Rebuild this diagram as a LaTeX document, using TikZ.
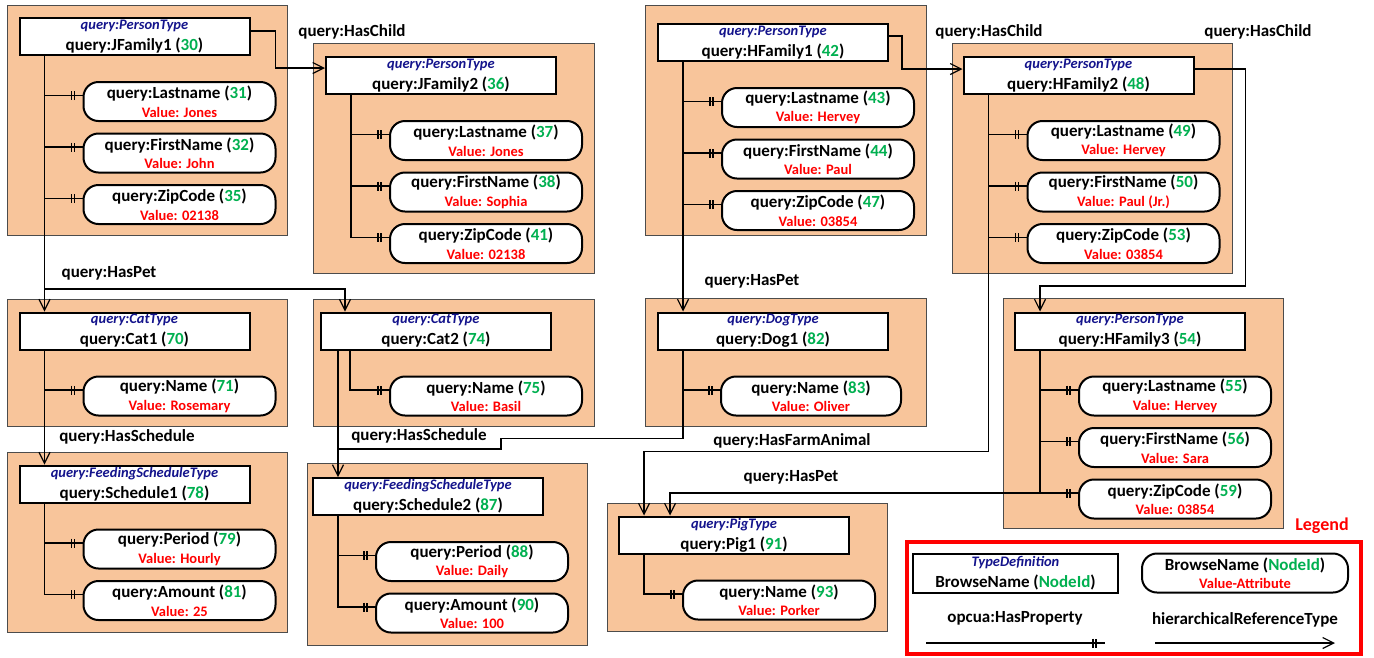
\documentclass[tikz,border=0pt]{standalone}
\usepackage{fontspec}
\setmainfont{Carlito}
\usetikzlibrary{backgrounds}
\usetikzlibrary{arrows.meta,calc,positioning}

\definecolor{grpfill}{RGB}{248,197,155}
\definecolor{typeblue}{RGB}{20,20,140}
\definecolor{idgreen}{RGB}{0,176,80}
\definecolor{valred}{RGB}{255,0,0}

\newcommand{\nid}[1]{\textcolor{idgreen}{#1}}
\newcommand{\tdef}[1]{{\fontsize{14.5}{14.5}\selectfont\itshape\color{typeblue}#1}}
\newcommand{\val}[1]{{\fontsize{14.5}{14.5}\selectfont\color{valred}#1}}
\newcommand{\hasprop}[2]{%
    \draw[propref] (#1) |- ([yshift=6pt]#2.west)
        ++(-11,-4.5) -- ++(0,9) ++(3,0) -- ++(0,-9);}

\begin{document}
\begin{tikzpicture}[
    x=1pt, y=-1pt,
    show background rectangle,
    tight background,
    background rectangle/.style={fill=white},
    group/.style={fill=grpfill, draw=black!70, line width=1pt},
    typebox/.style={draw, fill=white, line width=2pt, minimum width=230pt,
        minimum height=37pt, inner sep=0pt, align=center,
        font=\bfseries\fontsize{17}{21}\selectfont},
    propbox/.style={draw, fill=white, line width=2pt, rounded corners=15pt,
        minimum width=192pt, minimum height=39pt, inner sep=0pt, align=center,
        font=\bfseries\fontsize{17}{18.5}\selectfont},
    ref/.style={line width=1.2pt, -{Straight Barb[length=11pt,width=11pt]}},
    propref/.style={line width=1.2pt},
    reflabel/.style={font=\bfseries\fontsize{17}{17}\selectfont},
 ]
    \useasboundingbox (0,0) rectangle (1374,657);

    \draw[group] (7,5) rectangle (287,235);
    \draw[group] (313,43) rectangle (594,273);
    \draw[group] (645,5) rectangle (926,235);
    \draw[group] (952,43) rectangle (1232,273);
    \draw[group] (7,299) rectangle (287,426);
    \draw[group] (313,299) rectangle (594,426);
    \draw[group] (7,452) rectangle (287,632);
    \draw[group] (307,463) rectangle (587,645);
    \draw[group] (645,298) rectangle (926,426);
    \draw[group] (1003,298) rectangle (1283,528);
    \draw[group] (607,503) rectangle (887,631);

    \node[typebox] (jf1) at (134.5,36.5) {\tdef{query:PersonType}\\query:JFamily1 (\nid{30})};
    \node[propbox, anchor=north west] (jf1a) at ($(jf1.south west)+(64,25)$) {query:Lastname (\nid{31})\\\val{Value: Jones}};
    \node[propbox, below=10.5pt of jf1a] (jf1b) {query:FirstName (\nid{32})\\\val{Value: John}};
    \node[propbox, below=10.5pt of jf1b] (jf1c) {query:ZipCode (\nid{35})\\\val{Value: 02138}};

    \node[typebox] (jf2) at (441,75.5) {\tdef{query:PersonType}\\query:JFamily2 (\nid{36})};
    \node[propbox, anchor=north west] (jf2a) at ($(jf2.south west)+(64,25)$) {query:Lastname (\nid{37})\\\val{Value: Jones}};
    \node[propbox, below=10.5pt of jf2a] (jf2b) {query:FirstName (\nid{38})\\\val{Value: Sophia}};
    \node[propbox, below=10.5pt of jf2b] (jf2c) {query:ZipCode (\nid{41})\\\val{Value: 02138}};

    \node[typebox] (hf1) at (773,42.5) {\tdef{query:PersonType}\\query:HFamily1 (\nid{42})};
    \node[propbox, anchor=north west] (hf1a) at ($(hf1.south west)+(64,25)$) {query:Lastname (\nid{43})\\\val{Value: Hervey}};
    \node[propbox, below=10.5pt of hf1a] (hf1b) {query:FirstName (\nid{44})\\\val{Value: Paul}};
    \node[propbox, below=10.5pt of hf1b] (hf1c) {query:ZipCode (\nid{47})\\\val{Value: 03854}};

    \node[typebox] (hf2) at (1078.5,75.5) {\tdef{query:PersonType}\\query:HFamily2 (\nid{48})};
    \node[propbox, anchor=north west] (hf2a) at ($(hf2.south west)+(64,25)$) {query:Lastname (\nid{49})\\\val{Value: Hervey}};
    \node[propbox, below=10.5pt of hf2a] (hf2b) {query:FirstName (\nid{50})\\\val{Value: Paul (Jr.)}};
    \node[propbox, below=10.5pt of hf2b] (hf2c) {query:ZipCode (\nid{53})\\\val{Value: 03854}};

    \node[typebox] (hf3) at (1130,331) {\tdef{query:PersonType}\\query:HFamily3 (\nid{54})};
    \node[propbox, anchor=north west] (hf3a) at ($(hf3.south west)+(64,25)$) {query:Lastname (\nid{55})\\\val{Value: Hervey}};
    \node[propbox, below=10.5pt of hf3a] (hf3b) {query:FirstName (\nid{56})\\\val{Value: Sara}};
    \node[propbox, below=10.5pt of hf3b] (hf3c) {query:ZipCode (\nid{59})\\\val{Value: 03854}};

    \node[typebox] (cat1) at (134.5,331) {\tdef{query:CatType}\\query:Cat1 (\nid{70})};
    \node[propbox, anchor=north west] (cat1a) at ($(cat1.south west)+(64,25)$) {query:Name (\nid{71})\\\val{Value: Rosemary}};

    \node[typebox] (cat2) at (436,331) {\tdef{query:CatType}\\query:Cat2 (\nid{74})};
    \node[propbox, anchor=north west] (cat2a) at ($(cat2.south west)+(69,25)$) {query:Name (\nid{75})\\\val{Value: Basil}};

    \node[typebox] (sch1) at (134.5,484) {\tdef{query:FeedingScheduleType}\\query:Schedule1 (\nid{78})};
    \node[propbox, anchor=north west] (sch1a) at ($(sch1.south west)+(64,25)$) {query:Period (\nid{79})\\\val{Value: Hourly}};
    \node[propbox, below=10.5pt of sch1a] (sch1b) {query:Amount (\nid{81})\\\val{Value: 25}};

    \node[typebox] (sch2) at (428,496.5) {\tdef{query:FeedingScheduleType}\\query:Schedule2 (\nid{87})};
    \node[propbox, anchor=north west] (sch2a) at ($(sch2.south west)+(63,25)$) {query:Period (\nid{88})\\\val{Value: Daily}};
    \node[propbox, below=10.5pt of sch2a] (sch2b) {query:Amount (\nid{90})\\\val{Value: 100}};

    \node[typebox] (dog1) at (773,331) {\tdef{query:DogType}\\query:Dog1 (\nid{82})};
    \node[propbox, minimum width=180pt, anchor=north west] (dog1a) at ($(dog1.south west)+(63,25)$) {query:Name (\nid{83})\\\val{Value: Oliver}};

    \node[typebox] (pig1) at (734,535) {\tdef{query:PigType}\\query:Pig1 (\nid{91})};
    \node[propbox, anchor=north west] (pig1a) at ($(pig1.south west)+(64,25)$) {query:Name (\nid{93})\\\val{Value: Porker}};

    \coordinate (jf1s) at ([xshift=26pt]jf1.south west);
    \coordinate (jf2s) at ([xshift=26pt]jf2.south west);
    \coordinate (hf1s) at ([xshift=26pt]hf1.south west);
    \coordinate (hf2s) at ([xshift=26pt]hf2.south west);
    \coordinate (hf3s) at ([xshift=26pt]hf3.south west);
    \coordinate (cat1s) at ([xshift=26pt]cat1.south west);
    \coordinate (cat2s) at ([xshift=30pt]cat2.south west);
    \coordinate (sch1s) at ([xshift=26pt]sch1.south west);
    \coordinate (sch2s) at ([xshift=26pt]sch2.south west);
    \coordinate (dog1s) at ([xshift=26pt]dog1.south west);
    \coordinate (pig1s) at ([xshift=26pt]pig1.south west);
    \coordinate (hf3zip) at ([yshift=6pt]hf3c.west);

    \hasprop{jf1s}{jf1a} \hasprop{jf1s}{jf1b} \hasprop{jf1s}{jf1c}
    \hasprop{jf2s}{jf2a} \hasprop{jf2s}{jf2b} \hasprop{jf2s}{jf2c}
    \hasprop{hf1s}{hf1a} \hasprop{hf1s}{hf1b} \hasprop{hf1s}{hf1c}
    \hasprop{hf2s}{hf2a} \hasprop{hf2s}{hf2b} \hasprop{hf2s}{hf2c}
    \hasprop{hf3s}{hf3a} \hasprop{hf3s}{hf3b} \hasprop{hf3s}{hf3c}
    \hasprop{cat1s}{cat1a} \hasprop{cat2s}{cat2a}
    \hasprop{sch1s}{sch1a} \hasprop{sch1s}{sch1b}
    \hasprop{sch2s}{sch2a} \hasprop{sch2s}{sch2b}
    \hasprop{dog1s}{dog1a} \hasprop{pig1s}{pig1a}

    \draw[ref] ([yshift=5.5pt]jf1.east) -- ++(25,0) |- ([yshift=7.5pt]jf2.west);
    \draw[ref] ([yshift=6.5pt]hf1.east) -- ++(13,0) |- ([yshift=6.5pt]hf2.west);
    \draw[ref] ([yshift=6.5pt]hf2.east) -| ++(51,217) -| ([xshift=26pt]hf3.north west);
    \draw[ref] (jf1s) -- ([xshift=26pt]cat1.north west);
    \draw[ref] ($(jf1s)+(0,233)$) -| ([xshift=25pt]cat2.north west);
    \draw[ref] (hf1s) -- ([xshift=26pt]dog1.north west);
    \draw[ref] (cat1s) -- ([xshift=26pt]sch1.north west);
    \draw[ref] ([xshift=18pt]cat2.south west) -- ([xshift=26pt]sch2.north west);
    \draw[propref] (dog1s) |- ++(-182,88) |- ($(sch2.north west)+(26,-28)$);
    \draw[ref] (hf2s) |- ($(pig1.north west)+(26,-64)$) -- ([xshift=26pt]pig1.north west);
    \draw[ref] (hf3s |- hf3zip) -| ([xshift=52pt]pig1.north west);

    \node[reflabel] (lbchild1) at (352,32) {query:HasChild};
    \node[reflabel] (lbchild2) at (989,32) {query:HasChild};
    \node[reflabel] (lbchild3) at (1258,32) {query:HasChild};
    \node[reflabel] (lbpet1) at (109,273) {query:HasPet};
    \node[reflabel] (lbpet2) at (752,281) {query:HasPet};
    \node[reflabel] (lbsched1) at (127,437) {query:HasSchedule};
    \node[reflabel] (lbsched2) at (419,436) {query:HasSchedule};
    \node[reflabel] (lbfarm) at (792,441) {query:HasFarmAnimal};
    \node[reflabel] (lbpet3) at (791,477) {query:HasPet};

    \draw[valred, line width=3.5pt] (907,542) rectangle (1361,654);
    \node[font=\bfseries\fontsize{18}{18}\selectfont, text=valred] (lgtitle) at (1322,526) {Legend};
    \node[typebox, minimum width=205pt, minimum height=39pt] (lgtype) at (1015.5,573) {\tdef{TypeDefinition}\\BrowseName (\nid{NodeId})};
    \node[propbox, minimum width=206pt] (lgprop) at (1245,573) {BrowseName (\nid{NodeId})\\\val{Value-Attribute}};
    \node[reflabel] (lbprop) at (1015,618) {opcua:HasProperty};
    \node[reflabel] (lbhier) at (1245,620) {hierarchicalReferenceType};
    \coordinate (lgp1) at (926,643);
    \coordinate (lgp2) at (1105,643);
    \coordinate (lgh1) at (1155,643);
    \coordinate (lgh2) at (1335,643);
    \draw[propref] (lgp1) -- (lgp2) ++(-12,-4.5) -- ++(0,9) ++(3,0) -- ++(0,-9);
    \draw[ref] (lgh1) -- (lgh2);
\end{tikzpicture}
\end{document}
